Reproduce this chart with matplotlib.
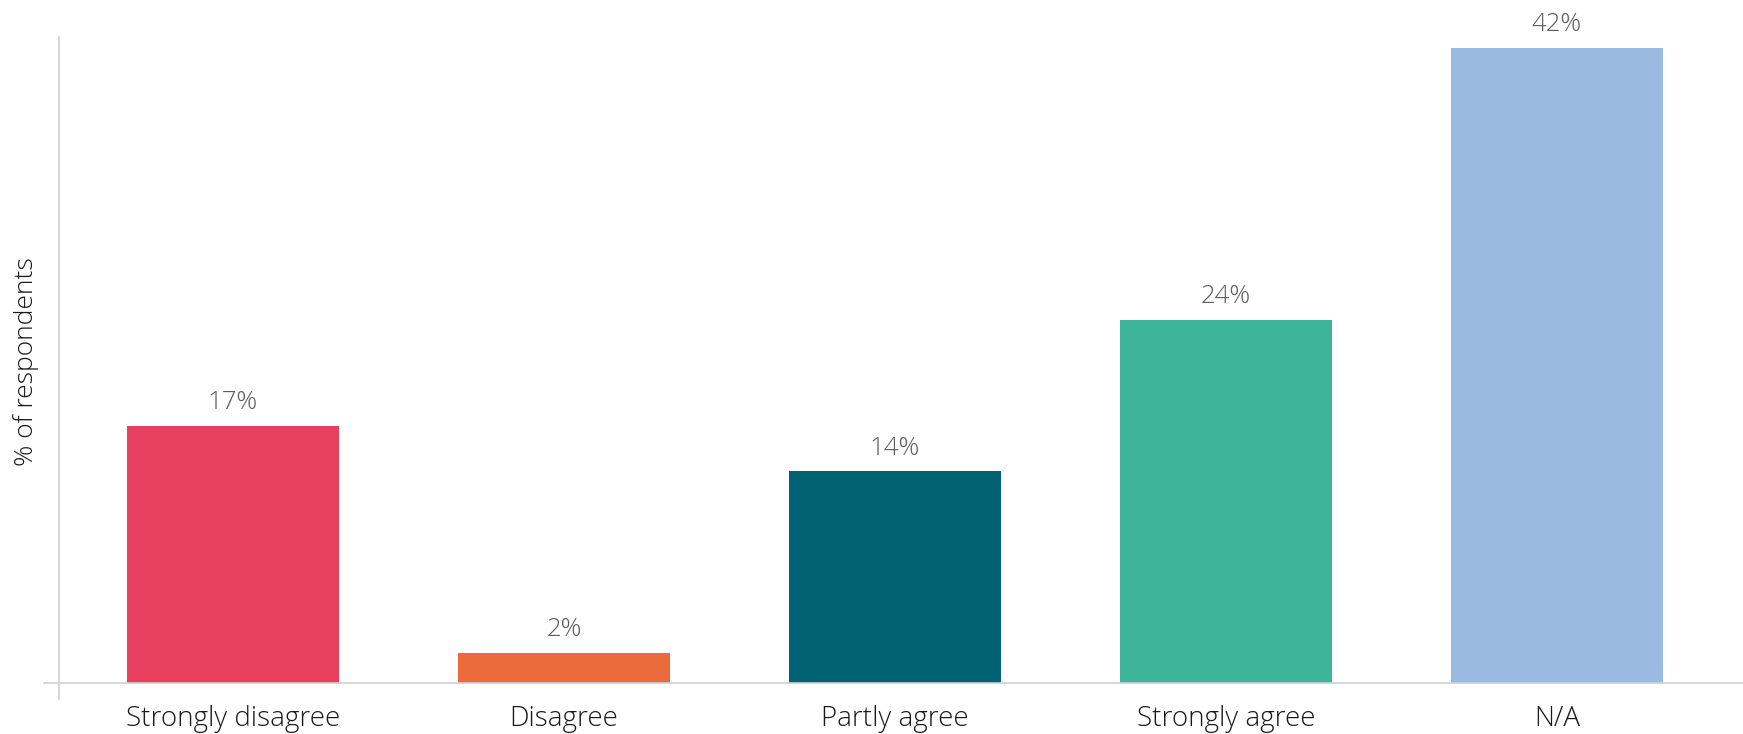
import matplotlib.pyplot as plt
import numpy as np

categories = ['Strongly disagree', 'Disagree', 'Partly agree', 'Strongly agree', 'N/A']
values = [17, 2, 14, 24, 42]
colors = ['#E83F5F', '#EC6B3C', '#006272', '#3EB49B', '#9BBAE2']

plt.rcParams['font.family'] = ['Open Sans', 'DejaVu Sans']

fig = plt.figure(figsize=(17.43, 7.34), dpi=100)
ax = fig.add_axes([44 / 1743, 35 / 734, 1 - 44 / 1743, (699 - 37) / 734])

x = np.arange(len(categories))
bars = ax.bar(x, values, width=0.64, color=colors)

# value labels above bars
for xi, v in zip(x, values):
    ax.annotate(f'{v}%', (xi, v), xytext=(0, 7.5), textcoords='offset points',
                ha='center', va='bottom', fontsize=18.5, color='#5c5c5c',
                fontweight='light')

ax.set_xlim(-0.571, 4.562)
ax.set_ylim(-1.06, 42.7)

for s in ['top', 'right']:
    ax.spines[s].set_visible(False)
ax.spines['bottom'].set_position(('data', 0))
ax.spines['left'].set_position(('data', -0.525))
ax.spines['bottom'].set_color('#d0d0d0')
ax.spines['left'].set_color('#d0d0d0')
ax.spines['bottom'].set_linewidth(1.2)
ax.spines['left'].set_linewidth(1.2)

ax.set_yticks([])
ax.set_xticks(x)
ax.set_xticklabels(categories, fontsize=20, color='#1a1a1a', fontweight='light')
ax.tick_params(axis='x', length=0, pad=16)

ax.set_ylabel('% of respondents', fontsize=19, color='#1a1a1a', fontweight='light')
ax.yaxis.set_label_coords(-0.003, 0.51)

fig.savefig('out.png', dpi=100)
